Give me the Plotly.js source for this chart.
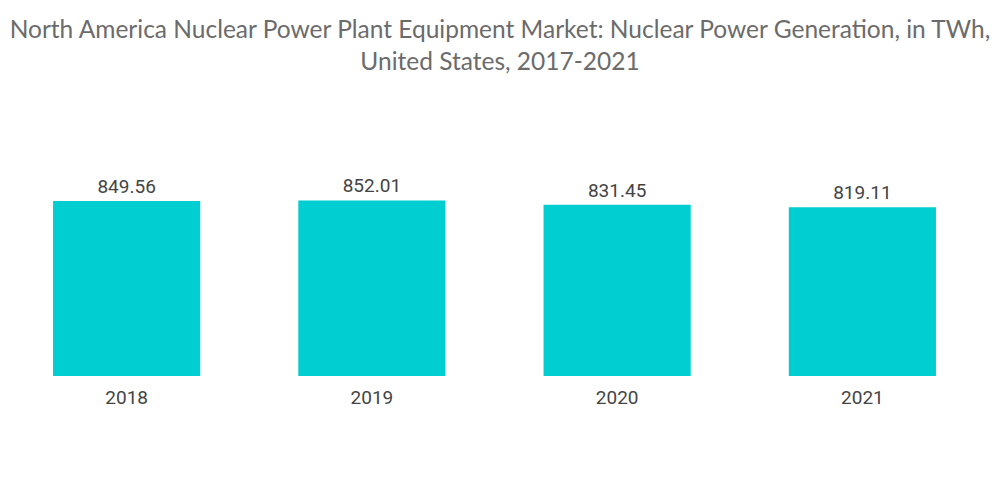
<!DOCTYPE html>
<html>
<head>
<meta charset="utf-8">
<script src="https://cdn.plot.ly/plotly-3.0.1.min.js"></script>
<style>html,body{margin:0;padding:0;background:#fff;}#chart{width:1000px;height:504px;}</style>
</head>
<body>
<div id="chart"></div>
<script>
var years = ["2018", "2019", "2020", "2021"];
var generationTWh = [849.56, 852.01, 831.45, 819.11];
var valueLabels = ["849.56", "852.01", "831.45", "819.11"];

var trace = {
  type: "bar",
  x: years,
  y: generationTWh,
  text: valueLabels,
  textposition: "outside",
  cliponaxis: false,
  textfont: {family: "Roboto, sans-serif", size: 19, color: "#444444"},
  marker: {color: "#00CED1"},
  hoverinfo: "none"
};

var layout = {
  width: 1000,
  height: 504,
  margin: {l: 4, r: 15, t: 150, b: 128},
  paper_bgcolor: "#ffffff",
  plot_bgcolor: "#ffffff",
  bargap: 0.4,
  showlegend: false,
  title: {
    text: "North America Nuclear Power Plant Equipment Market: Nuclear Power Generation, in TWh,<br>United States, 2017-2021",
    font: {family: "Lato, 'Noto Sans', sans-serif", size: 24.5, color: "#6b6b6b"},
    x: 0.5,
    xanchor: "center",
    yref: "container",
    y: 0.925,
    yanchor: "middle"
  },
  xaxis: {
    type: "category",
    showgrid: false,
    zeroline: false,
    showline: false,
    ticks: "",
    ticklabelstandoff: 8,
    tickfont: {family: "Roboto, sans-serif", size: 19, color: "#444444"}
  },
  yaxis: {
    range: [0, 1097],
    visible: false,
    showgrid: false,
    zeroline: false
  }
};

Plotly.newPlot("chart", [trace], layout, {displayModeBar: false, staticPlot: true});
</script>
</body>
</html>
